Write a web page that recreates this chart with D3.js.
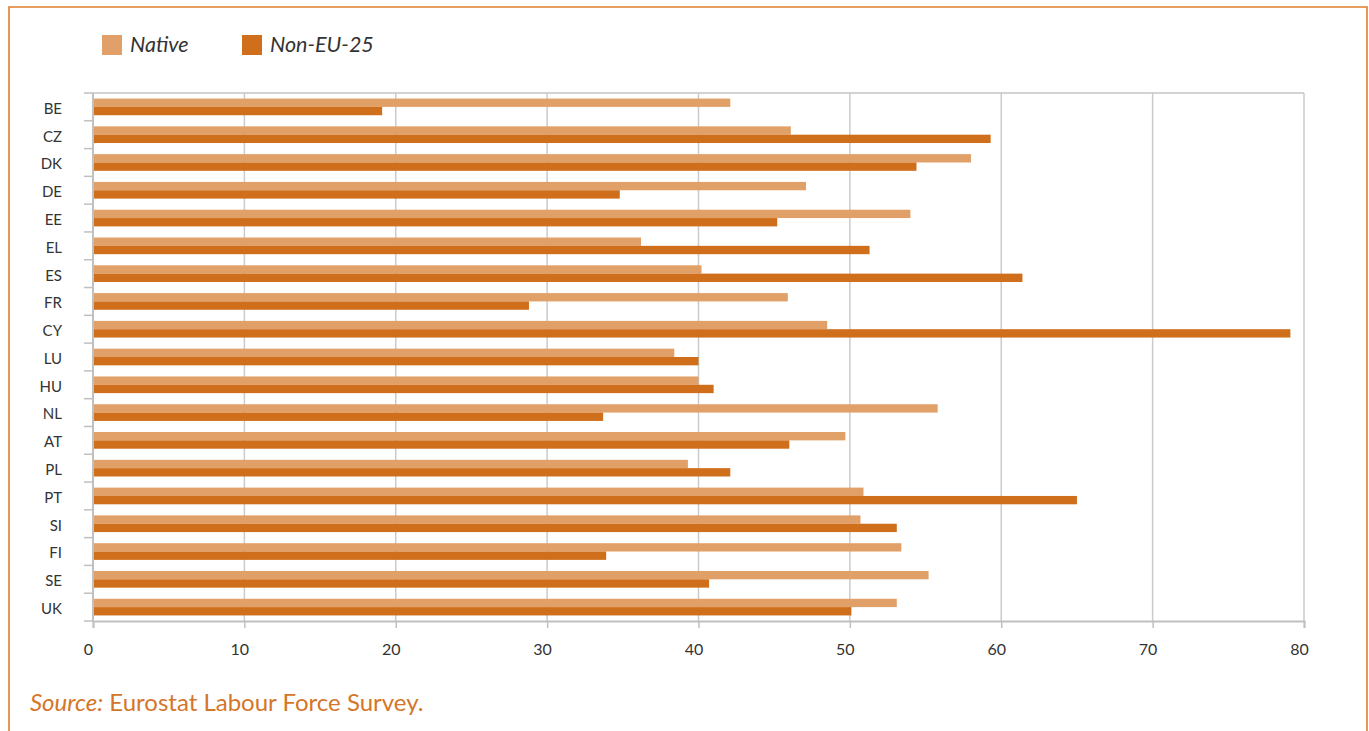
<!DOCTYPE html>
<html>
<head>
<meta charset="utf-8">
<script src="https://cdn.jsdelivr.net/npm/d3@7"></script>
<style>
  html, body { margin: 0; padding: 0; background: #fff; }
  svg { display: block; }
</style>
</head>
<body>
<svg id="chart" width="1369" height="731"></svg>
<script>
const categories = ["BE","CZ","DK","DE","EE","EL","ES","FR","CY","LU","HU","NL","AT","PL","PT","SI","FI","SE","UK"];
const nativeValues = [42.1,46.1,58.0,47.1,54.0,36.2,40.2,45.9,48.5,38.4,40.0,55.8,49.7,39.3,50.9,50.7,53.4,55.2,53.1];
const nonEUValues  = [19.1,59.3,54.4,34.8,45.2,51.3,61.4,28.8,79.1,40.0,41.0,33.7,46.0,42.1,65.0,53.1,33.9,40.7,50.1];
const seriesNames = ["Native","Non-EU-25"];
const xTicks = [0,10,20,30,40,50,60,70,80];

const colors = ["#E2A069", "#CF6E1B"];
const font = "Lato, 'Noto Sans', sans-serif";

const svg = d3.select("#chart");
const W = 1369, H = 731;
const plot = {left: 93, right: 1304, top: 93, bottom: 621};

// Frame
svg.append("path")
  .attr("d", `M9,${H} L9,7 L1367,7 L1367,${H}`)
  .attr("fill", "none").attr("stroke", "#E07E2C").attr("stroke-width", 1.6);

const x = d3.scaleLinear().domain([0, 80]).range([plot.left, plot.right]);
const y = d3.scaleBand().domain(categories).range([plot.top, plot.bottom])
  .paddingInner(0.4).paddingOuter(0.2);
const ySub = d3.scaleBand().domain([0,1]).range([0, y.bandwidth()]);

// Gridlines
svg.append("g").selectAll("line").data(xTicks.filter(d => d > 0)).join("line")
  .attr("x1", d => x(d)).attr("x2", d => x(d))
  .attr("y1", plot.top).attr("y2", plot.bottom)
  .attr("stroke", "#cbcbcb").attr("stroke-width", 1.5);

// Top border of plot
svg.append("line").attr("x1", plot.left).attr("x2", plot.right)
  .attr("y1", plot.top).attr("y2", plot.top)
  .attr("stroke", "#c4c4c4").attr("stroke-width", 1.5);

// Bars
const rows = categories.map((c, i) => ({c, vals: [nativeValues[i], nonEUValues[i]]}));
const g = svg.append("g");
rows.forEach(r => {
  r.vals.forEach((v, k) => {
    g.append("rect")
      .attr("x", x(0))
      .attr("y", y(r.c) + ySub(k))
      .attr("width", x(v) - x(0))
      .attr("height", ySub.bandwidth())
      .attr("fill", colors[k]);
  });
});

// X axis
const xAxis = d3.axisBottom(x).tickValues(xTicks).tickSize(7).tickPadding(0).tickFormat(d3.format("d"));
const xg = svg.append("g").attr("transform", `translate(0,${plot.bottom})`).call(xAxis);
xg.select(".domain").attr("stroke", "#c0c0c0").attr("stroke-width", 2);
xg.selectAll(".tick line").attr("stroke", "#c0c0c0").attr("stroke-width", 1.5);
xg.selectAll(".tick text")
  .attr("y", 34).attr("dy", "0").attr("dx", -5)
  .attr("fill", "#333").attr("font-family", font).attr("font-size", 16);

// Y axis
const yTickPos = d3.range(categories.length + 1).map(i => plot.top + i * (plot.bottom - plot.top) / categories.length);
svg.append("line").attr("x1", plot.left).attr("x2", plot.left)
  .attr("y1", plot.top).attr("y2", plot.bottom)
  .attr("stroke", "#c0c0c0").attr("stroke-width", 2);
svg.append("g").selectAll("line").data(yTickPos).join("line")
  .attr("x1", 84).attr("x2", plot.left)
  .attr("y1", d => d).attr("y2", d => d)
  .attr("stroke", "#c0c0c0").attr("stroke-width", 1.5);
svg.append("g").selectAll("text").data(categories).join("text")
  .attr("x", 62).attr("y", d => y(d) + y.bandwidth() / 2 + 1.5)
  .attr("dy", "0.36em")
  .attr("text-anchor", "end")
  .attr("fill", "#333").attr("font-family", font).attr("font-size", 15)
  .text(d => d);

// Legend
const legendX = [102, 242];
seriesNames.forEach((s, i) => {
  svg.append("rect").attr("x", legendX[i]).attr("y", 35).attr("width", 20).attr("height", 20).attr("fill", colors[i]);
  svg.append("text").attr("x", legendX[i] + 28).attr("y", 52)
    .attr("font-family", font).attr("font-style", "italic").attr("font-size", 21.5)
    .attr("fill", "#333").text(s);
});

// Source
const src = svg.append("text").attr("x", 30).attr("y", 711)
  .attr("font-family", font).attr("font-size", 24).attr("fill", "#D4762A");
src.append("tspan").attr("font-style", "italic").text("Source:");
src.append("tspan").text(" Eurostat Labour Force Survey.");
</script>
</body>
</html>
